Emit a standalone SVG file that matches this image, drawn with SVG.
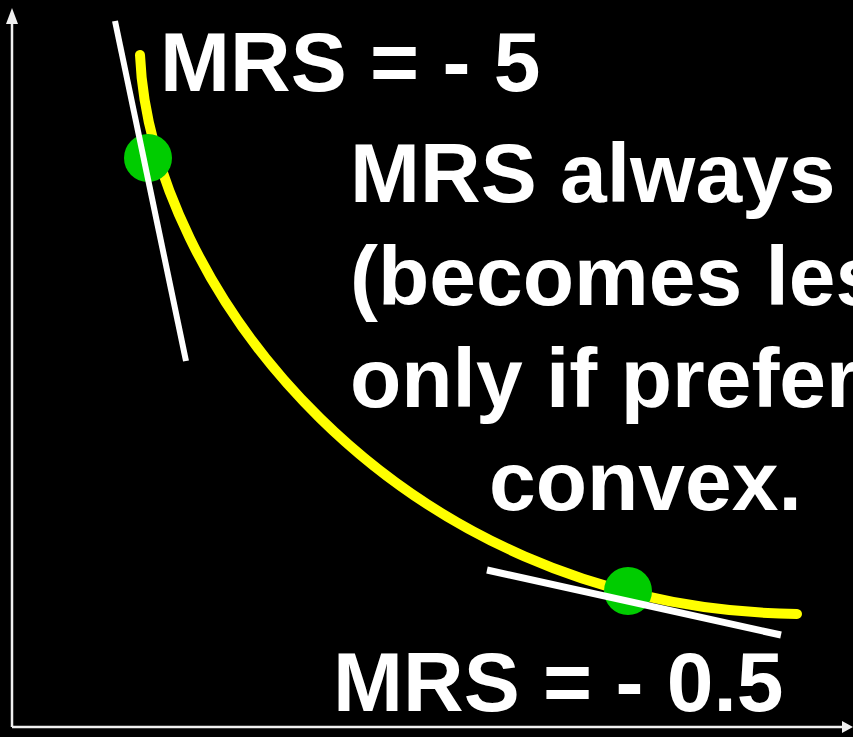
<svg xmlns="http://www.w3.org/2000/svg" width="853" height="737" viewBox="0 0 853 737">
<style>
.t{font-family:"Liberation Sans",Arial,sans-serif;font-weight:bold;font-size:84px;fill:#fff}
.ax{stroke:#f0f0f0;stroke-width:2.5;fill:none}
.tan{stroke:#fff;fill:none}
.dot{fill:#00cc00}
</style>
<rect x="0" y="0" width="853" height="737" fill="#000"/>
<g id="axes">
<line class="ax" x1="12" y1="22" x2="12" y2="727"/>
<line class="ax" x1="12" y1="727" x2="842" y2="727"/>
<polygon points="12,8 6,24 18,24" fill="#f0f0f0"/>
<polygon points="853,727 842,721 842,733" fill="#f0f0f0"/>
</g>
<g id="curve">
<path d="M140,55 C150,284 391,608 797,614" fill="none" stroke="#ffff00" stroke-width="10" stroke-linecap="round"/>
</g>
<g id="point1">
<circle class="dot" cx="148" cy="158" r="24"/>
</g>
<g id="point2">
<circle class="dot" cx="628" cy="591" r="24"/>
</g>
<g id="connectors">
<line class="tan" x1="115" y1="21" x2="186" y2="361" stroke-width="6"/>
<line class="tan" x1="487" y1="570" x2="781" y2="635" stroke-width="7"/>
</g>
<g id="labels">
<text class="t" x="160" y="91">MRS = - 5</text>
<text class="t" x="350" y="202">MRS always</text>
<text class="t" x="350" y="305">(becomes les</text>
<text class="t" x="350" y="407">only if prefer</text>
<text class="t" x="489" y="510">convex.</text>
<text class="t" x="333" y="711">MRS = - 0.5</text>
</g>
</svg>
